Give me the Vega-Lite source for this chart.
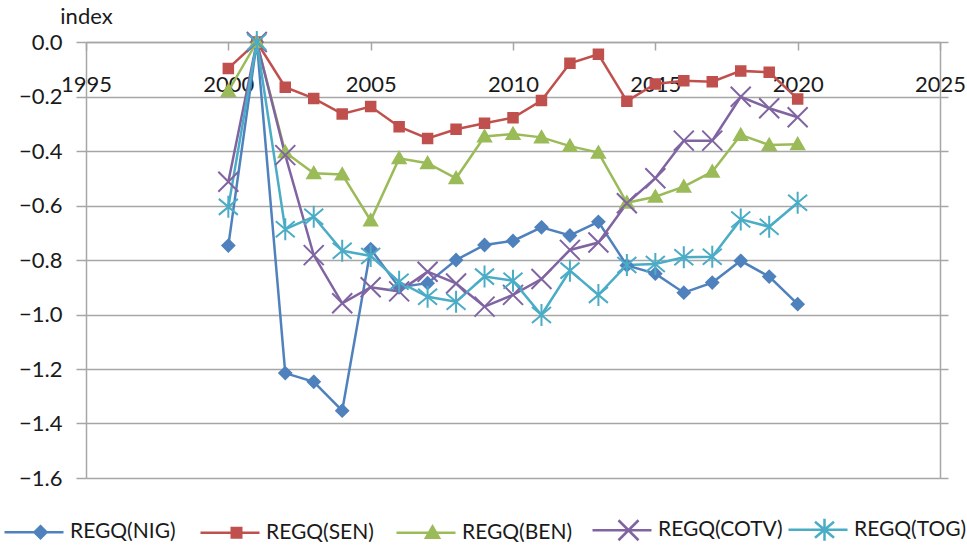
{
  "$schema": "https://vega.github.io/schema/vega-lite/v6.json",
  "width": 854,
  "height": 436,
  "autosize": {"type": "none"},
  "padding": {"left": 86, "top": 42, "right": 27, "bottom": 67},
  "background": "white",
  "config": {
    "view": {"stroke": null},
    "axis": {"labelFont": "Lato", "labelFontSize": 22, "labelColor": "#1a1a1a", "titleFont": "Lato", "titleFontSize": 22, "titleColor": "#1a1a1a", "titleFontWeight": "normal"},
    "legend": {"labelFont": "Lato", "labelFontSize": 21, "labelColor": "#1a1a1a"}
  },
  "data": {
    "values": [
      {"year": 2000, "series": "REGQ(NIG)", "value": -0.747},
      {"year": 2001, "series": "REGQ(NIG)", "value": 0.0},
      {"year": 2002, "series": "REGQ(NIG)", "value": -1.215},
      {"year": 2003, "series": "REGQ(NIG)", "value": -1.247},
      {"year": 2004, "series": "REGQ(NIG)", "value": -1.353},
      {"year": 2005, "series": "REGQ(NIG)", "value": -0.76},
      {"year": 2006, "series": "REGQ(NIG)", "value": -0.9},
      {"year": 2007, "series": "REGQ(NIG)", "value": -0.885},
      {"year": 2008, "series": "REGQ(NIG)", "value": -0.8},
      {"year": 2009, "series": "REGQ(NIG)", "value": -0.745},
      {"year": 2010, "series": "REGQ(NIG)", "value": -0.73},
      {"year": 2011, "series": "REGQ(NIG)", "value": -0.68},
      {"year": 2012, "series": "REGQ(NIG)", "value": -0.71},
      {"year": 2013, "series": "REGQ(NIG)", "value": -0.66},
      {"year": 2014, "series": "REGQ(NIG)", "value": -0.82},
      {"year": 2015, "series": "REGQ(NIG)", "value": -0.85},
      {"year": 2016, "series": "REGQ(NIG)", "value": -0.92},
      {"year": 2017, "series": "REGQ(NIG)", "value": -0.883},
      {"year": 2018, "series": "REGQ(NIG)", "value": -0.803},
      {"year": 2019, "series": "REGQ(NIG)", "value": -0.861},
      {"year": 2020, "series": "REGQ(NIG)", "value": -0.962},
      {"year": 2000, "series": "REGQ(SEN)", "value": -0.097},
      {"year": 2001, "series": "REGQ(SEN)", "value": 0.0},
      {"year": 2002, "series": "REGQ(SEN)", "value": -0.166},
      {"year": 2003, "series": "REGQ(SEN)", "value": -0.207},
      {"year": 2004, "series": "REGQ(SEN)", "value": -0.264},
      {"year": 2005, "series": "REGQ(SEN)", "value": -0.237},
      {"year": 2006, "series": "REGQ(SEN)", "value": -0.311},
      {"year": 2007, "series": "REGQ(SEN)", "value": -0.354},
      {"year": 2008, "series": "REGQ(SEN)", "value": -0.32},
      {"year": 2009, "series": "REGQ(SEN)", "value": -0.298},
      {"year": 2010, "series": "REGQ(SEN)", "value": -0.278},
      {"year": 2011, "series": "REGQ(SEN)", "value": -0.215},
      {"year": 2012, "series": "REGQ(SEN)", "value": -0.078},
      {"year": 2013, "series": "REGQ(SEN)", "value": -0.045},
      {"year": 2014, "series": "REGQ(SEN)", "value": -0.217},
      {"year": 2015, "series": "REGQ(SEN)", "value": -0.154},
      {"year": 2016, "series": "REGQ(SEN)", "value": -0.142},
      {"year": 2017, "series": "REGQ(SEN)", "value": -0.146},
      {"year": 2018, "series": "REGQ(SEN)", "value": -0.106},
      {"year": 2019, "series": "REGQ(SEN)", "value": -0.111},
      {"year": 2020, "series": "REGQ(SEN)", "value": -0.209},
      {"year": 2000, "series": "REGQ(BEN)", "value": -0.18},
      {"year": 2001, "series": "REGQ(BEN)", "value": 0.0},
      {"year": 2002, "series": "REGQ(BEN)", "value": -0.405},
      {"year": 2003, "series": "REGQ(BEN)", "value": -0.482},
      {"year": 2004, "series": "REGQ(BEN)", "value": -0.486},
      {"year": 2005, "series": "REGQ(BEN)", "value": -0.655},
      {"year": 2006, "series": "REGQ(BEN)", "value": -0.427},
      {"year": 2007, "series": "REGQ(BEN)", "value": -0.445},
      {"year": 2008, "series": "REGQ(BEN)", "value": -0.5},
      {"year": 2009, "series": "REGQ(BEN)", "value": -0.347},
      {"year": 2010, "series": "REGQ(BEN)", "value": -0.338},
      {"year": 2011, "series": "REGQ(BEN)", "value": -0.35},
      {"year": 2012, "series": "REGQ(BEN)", "value": -0.382},
      {"year": 2013, "series": "REGQ(BEN)", "value": -0.406},
      {"year": 2014, "series": "REGQ(BEN)", "value": -0.59},
      {"year": 2015, "series": "REGQ(BEN)", "value": -0.568},
      {"year": 2016, "series": "REGQ(BEN)", "value": -0.531},
      {"year": 2017, "series": "REGQ(BEN)", "value": -0.476},
      {"year": 2018, "series": "REGQ(BEN)", "value": -0.341},
      {"year": 2019, "series": "REGQ(BEN)", "value": -0.378},
      {"year": 2020, "series": "REGQ(BEN)", "value": -0.375},
      {"year": 2000, "series": "REGQ(COTV)", "value": -0.513},
      {"year": 2001, "series": "REGQ(COTV)", "value": 0.0},
      {"year": 2002, "series": "REGQ(COTV)", "value": -0.415},
      {"year": 2003, "series": "REGQ(COTV)", "value": -0.782},
      {"year": 2004, "series": "REGQ(COTV)", "value": -0.959},
      {"year": 2005, "series": "REGQ(COTV)", "value": -0.9},
      {"year": 2006, "series": "REGQ(COTV)", "value": -0.915},
      {"year": 2007, "series": "REGQ(COTV)", "value": -0.843},
      {"year": 2008, "series": "REGQ(COTV)", "value": -0.886},
      {"year": 2009, "series": "REGQ(COTV)", "value": -0.971},
      {"year": 2010, "series": "REGQ(COTV)", "value": -0.928},
      {"year": 2011, "series": "REGQ(COTV)", "value": -0.87},
      {"year": 2012, "series": "REGQ(COTV)", "value": -0.763},
      {"year": 2013, "series": "REGQ(COTV)", "value": -0.736},
      {"year": 2014, "series": "REGQ(COTV)", "value": -0.592},
      {"year": 2015, "series": "REGQ(COTV)", "value": -0.5},
      {"year": 2016, "series": "REGQ(COTV)", "value": -0.362},
      {"year": 2017, "series": "REGQ(COTV)", "value": -0.362},
      {"year": 2018, "series": "REGQ(COTV)", "value": -0.201},
      {"year": 2019, "series": "REGQ(COTV)", "value": -0.243},
      {"year": 2020, "series": "REGQ(COTV)", "value": -0.276},
      {"year": 2000, "series": "REGQ(TOG)", "value": -0.605},
      {"year": 2001, "series": "REGQ(TOG)", "value": 0.0},
      {"year": 2002, "series": "REGQ(TOG)", "value": -0.687},
      {"year": 2003, "series": "REGQ(TOG)", "value": -0.641},
      {"year": 2004, "series": "REGQ(TOG)", "value": -0.766},
      {"year": 2005, "series": "REGQ(TOG)", "value": -0.785},
      {"year": 2006, "series": "REGQ(TOG)", "value": -0.88},
      {"year": 2007, "series": "REGQ(TOG)", "value": -0.935},
      {"year": 2008, "series": "REGQ(TOG)", "value": -0.953},
      {"year": 2009, "series": "REGQ(TOG)", "value": -0.861},
      {"year": 2010, "series": "REGQ(TOG)", "value": -0.876},
      {"year": 2011, "series": "REGQ(TOG)", "value": -1.002},
      {"year": 2012, "series": "REGQ(TOG)", "value": -0.839},
      {"year": 2013, "series": "REGQ(TOG)", "value": -0.928},
      {"year": 2014, "series": "REGQ(TOG)", "value": -0.818},
      {"year": 2015, "series": "REGQ(TOG)", "value": -0.815},
      {"year": 2016, "series": "REGQ(TOG)", "value": -0.79},
      {"year": 2017, "series": "REGQ(TOG)", "value": -0.788},
      {"year": 2018, "series": "REGQ(TOG)", "value": -0.651},
      {"year": 2019, "series": "REGQ(TOG)", "value": -0.678},
      {"year": 2020, "series": "REGQ(TOG)", "value": -0.59}
    ]
  },
  "resolve": {"axis": {"y": "independent"}},
  "layer": [
    {
      "mark": {"type": "line", "strokeWidth": 2.5},
      "encoding": {
        "x": {
          "field": "year", "type": "quantitative",
          "scale": {"domain": [1995, 2025], "nice": false, "zero": false},
          "axis": {
            "orient": "bottom", "offset": -436, "title": null, "grid": false,
            "values": [1995, 2000, 2005, 2010, 2015, 2020, 2025], "format": "d",
            "labelFlush": false, "labelOverlap": false,
            "domainColor": "#a6a6a6", "domainWidth": 1.5,
            "tickColor": "#a6a6a6", "tickWidth": 1.5, "tickSize": 8,
            "labelPadding": 24
          }
        },
        "y": {
          "field": "value", "type": "quantitative",
          "scale": {"domain": [-1.6, 0], "nice": false, "zero": false},
          "axis": {
            "orient": "left",
            "values": [-1.6, -1.4, -1.2, -1.0, -0.8, -0.6, -0.4, -0.2, 0.0],
            "format": ".1f",
            "grid": true, "gridColor": "#a6a6a6", "gridWidth": 1.5,
            "domainColor": "#a6a6a6", "domainWidth": 1.5,
            "tickColor": "#a6a6a6", "tickWidth": 1.5, "tickSize": 10,
            "labelPadding": 14,
            "title": "index", "titleAngle": 0, "titleX": 0, "titleY": -26,
            "titleAlign": "center", "titleBaseline": "middle"
          }
        },
        "color": {
          "field": "series", "type": "nominal",
          "scale": {
            "domain": ["REGQ(NIG)", "REGQ(SEN)", "REGQ(BEN)", "REGQ(COTV)", "REGQ(TOG)"],
            "range": ["#4F81BD", "#C0504D", "#9BBB59", "#8064A2", "#4BACC6"]
          },
          "legend": {
            "orient": "none", "legendX": -85, "legendY": 477,
            "title": null, "direction": "horizontal", "columns": 5,
            "gridAlign": "all", "columnPadding": 0, "padding": 0,
            "symbolSize": 100, "symbolOffset": 0, "labelOffset": 48,
            "symbolStrokeWidth": 2.5,
            "encode": {
              "symbols": {
                "update": {
                  "shape": {"signal": "datum.value === 'REGQ(NIG)' ? 'M-1.4,0L10.4,0M5.8,-1.2L7,0L5.8,1.2L4.6,0Z' : datum.value === 'REGQ(SEN)' ? 'M-1.4,0L10.4,0M4.85,-0.95L6.75,-0.95L6.75,0.95L4.85,0.95Z' : datum.value === 'REGQ(BEN)' ? 'M-1.4,0L10.4,0M5.8,-1.25L7.1,1L4.5,1Z' : datum.value === 'REGQ(COTV)' ? 'M-1.4,0L10.4,0M3.8,-2L7.8,2M3.8,2L7.8,-2' : 'M-1.4,0L10.4,0M3.9,-1.6L7.7,1.6M3.9,1.6L7.7,-1.6M5.8,-2.2L5.8,2.2'"},
                  "stroke": {"signal": "scale('color', datum.value)"},
                  "fill": {"signal": "scale('color', datum.value)"},
                  "strokeWidth": {"value": 2.5},
                  "opacity": {"value": 1}
                }
              }
            }
          }
        }
      }
    },
    {
      "transform": [{"filter": "datum.series === 'REGQ(NIG)'"}],
      "mark": {"type": "point", "filled": true, "size": 100, "strokeWidth": 2, "opacity": 1, "shape": "M0,-1.2L1.2,0L0,1.2L-1.2,0Z", "fill": "#4F81BD", "stroke": "#4F81BD"},
      "encoding": {
        "x": {"field": "year", "type": "quantitative"},
        "y": {
          "field": "value", "type": "quantitative",
          "axis": {
            "orient": "right", "labels": false, "grid": false, "title": null,
            "values": [-1.6, -1.4, -1.2, -1.0, -0.8, -0.6, -0.4, -0.2, 0.0],
            "domainColor": "#a6a6a6", "domainWidth": 1.5,
            "tickColor": "#a6a6a6", "tickWidth": 1.5, "tickSize": 8
          }
        }
      }
    },
    {
      "transform": [{"filter": "datum.series === 'REGQ(SEN)'"}],
      "mark": {"type": "point", "filled": true, "size": 100, "strokeWidth": 2, "opacity": 1, "shape": "M-0.95,-0.95L0.95,-0.95L0.95,0.95L-0.95,0.95Z", "fill": "#C0504D", "stroke": "#C0504D"},
      "encoding": {
        "x": {"field": "year", "type": "quantitative"},
        "y": {"field": "value", "type": "quantitative", "axis": null}
      }
    },
    {
      "transform": [{"filter": "datum.series === 'REGQ(BEN)'"}],
      "mark": {"type": "point", "filled": true, "size": 100, "strokeWidth": 2, "opacity": 1, "shape": "M0,-1.25L1.3,1L-1.3,1Z", "fill": "#9BBB59", "stroke": "#9BBB59"},
      "encoding": {
        "x": {"field": "year", "type": "quantitative"},
        "y": {"field": "value", "type": "quantitative", "axis": null}
      }
    },
    {
      "transform": [{"filter": "datum.series === 'REGQ(COTV)'"}],
      "mark": {"type": "point", "filled": true, "size": 100, "strokeWidth": 2, "opacity": 1, "shape": "M-2,-2L2,2M-2,2L2,-2", "fill": "#8064A2", "stroke": "#8064A2"},
      "encoding": {
        "x": {"field": "year", "type": "quantitative"},
        "y": {"field": "value", "type": "quantitative", "axis": null}
      }
    },
    {
      "transform": [{"filter": "datum.series === 'REGQ(TOG)'"}],
      "mark": {"type": "point", "filled": true, "size": 100, "strokeWidth": 2, "opacity": 1, "shape": "M-1.9,-1.6L1.9,1.6M-1.9,1.6L1.9,-1.6M0,-2.2L0,2.2", "fill": "#4BACC6", "stroke": "#4BACC6"},
      "encoding": {
        "x": {"field": "year", "type": "quantitative"},
        "y": {"field": "value", "type": "quantitative", "axis": null}
      }
    }
  ]
}
